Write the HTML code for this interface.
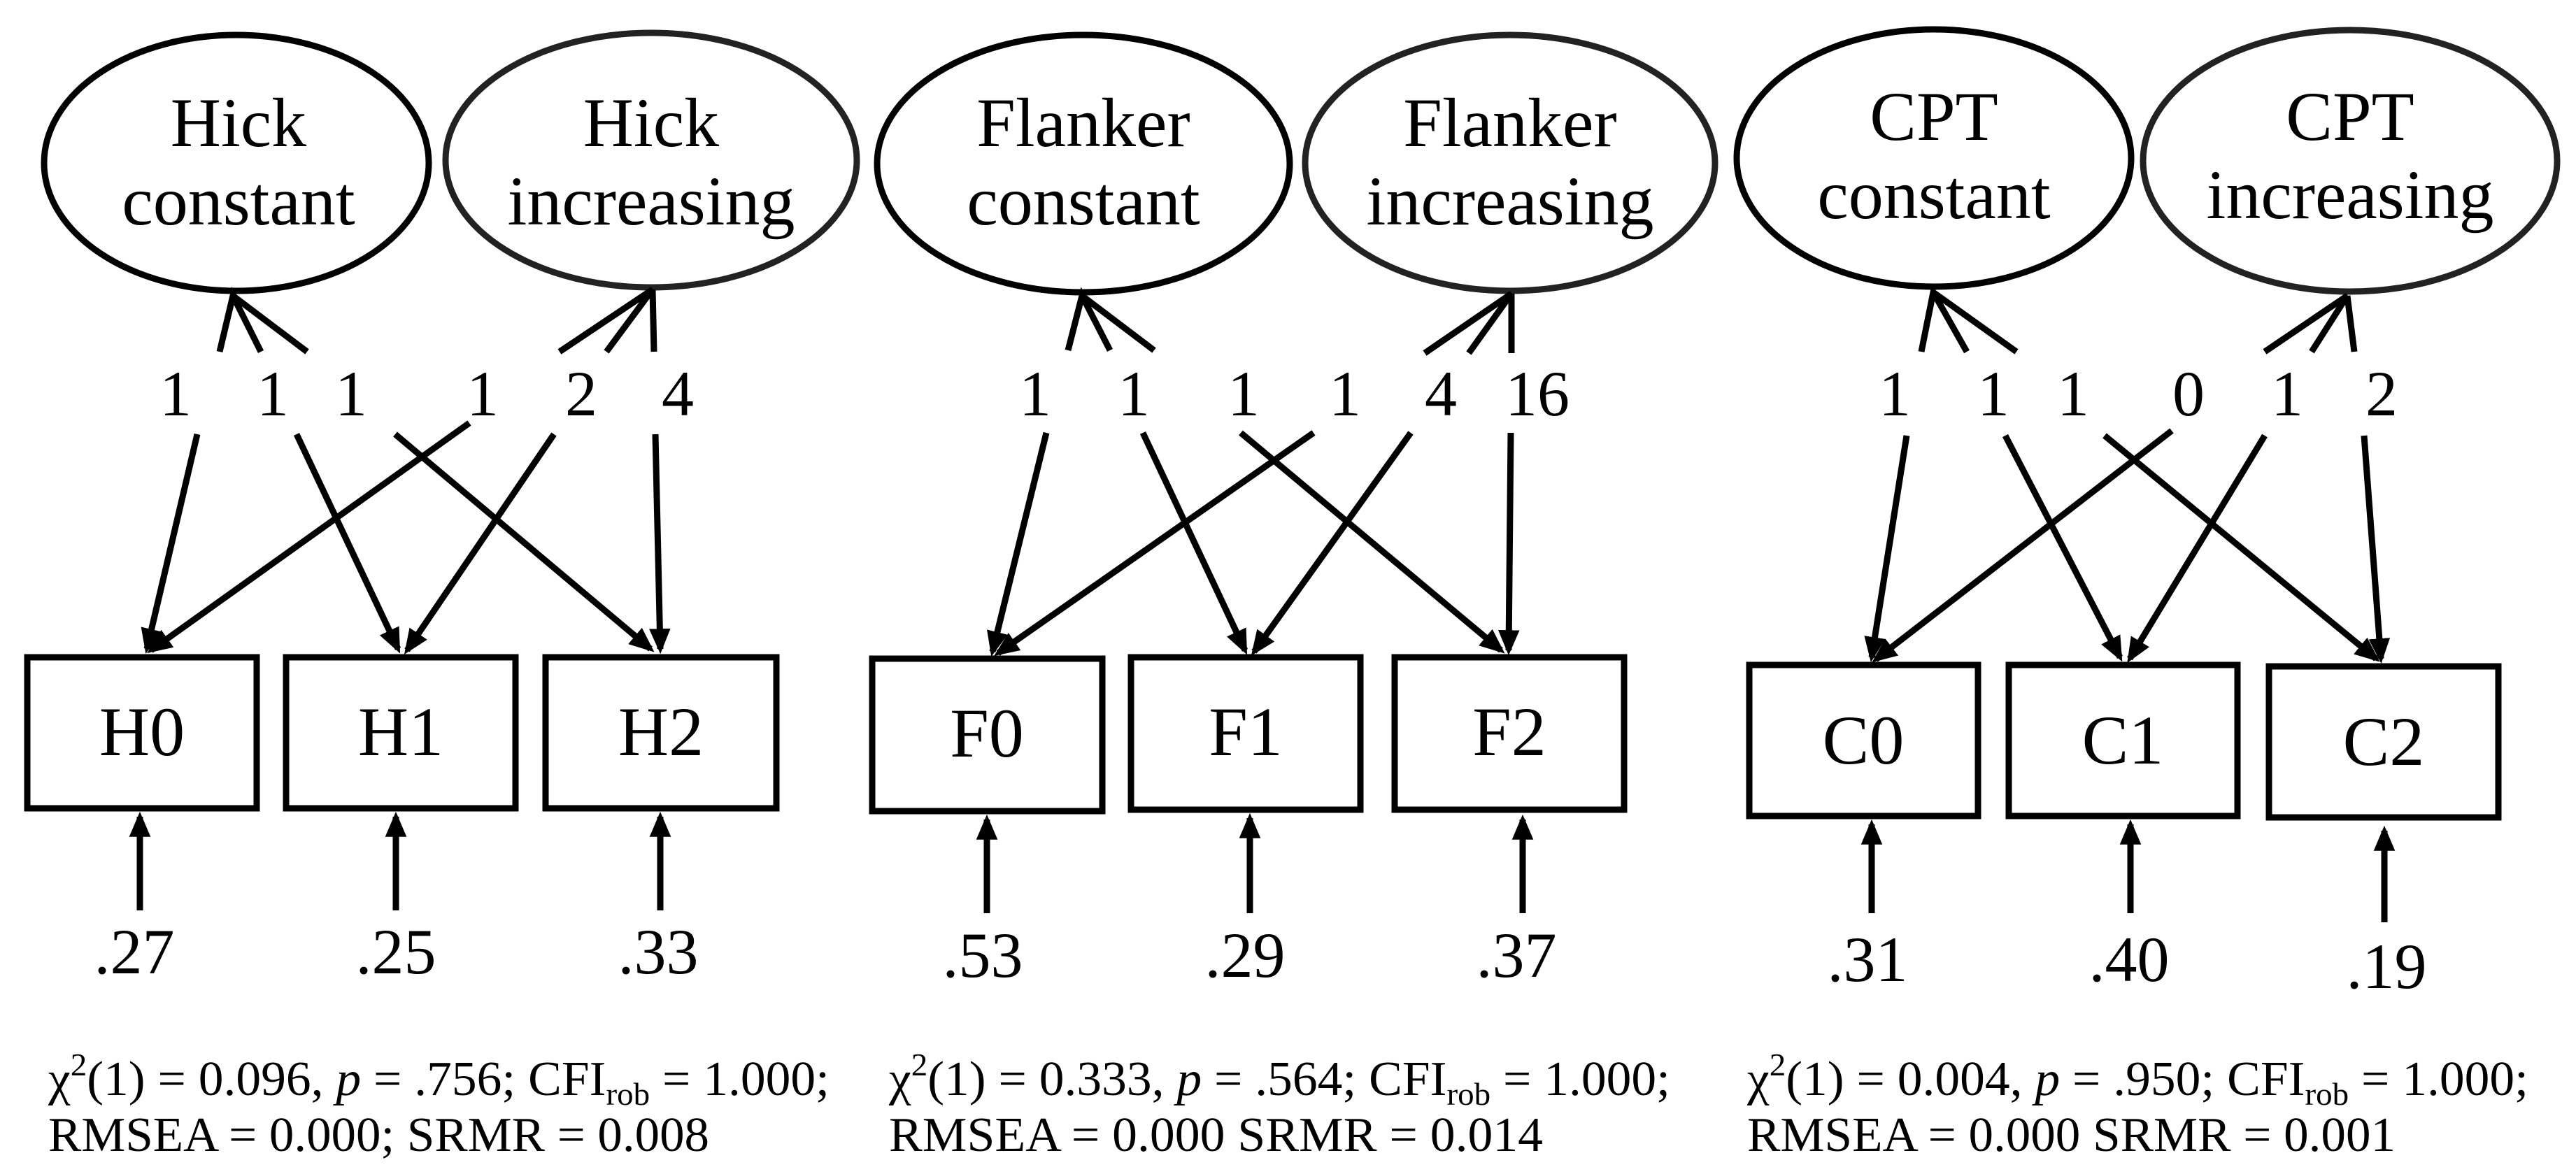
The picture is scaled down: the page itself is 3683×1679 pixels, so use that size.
<!DOCTYPE html>
<html><head><meta charset="utf-8"><style>
html,body{margin:0;padding:0;background:#fff}
svg{display:block}
text{font-family:"Liberation Serif",serif;fill:#000}
</style></head><body>
<svg width="3683" height="1679" viewBox="0 0 3683 1679" xmlns="http://www.w3.org/2000/svg">
<defs>
<marker id="a" markerWidth="4" markerHeight="4" refX="3.2" refY="2" orient="auto" markerUnits="strokeWidth">
<path d="M0,0.3 L4,2 L0,3.7 Z" fill="#000"/>
</marker>
</defs>
<g stroke="#000" stroke-width="9" fill="none">
<!-- Panel 1 -->
<ellipse cx="338" cy="233" rx="275" ry="183"/>
<ellipse cx="931" cy="229" rx="294" ry="182" stroke="#222"/>
<rect x="39" y="940" width="328" height="216"/>
<rect x="409" y="940" width="328" height="216"/>
<rect x="780" y="940" width="330" height="216"/>
<path d="M314,503 L333,423 L373,503 M333,423 L439,503"/>
<path d="M800,503 L933,414 L867,503 M933,414 L935,503"/>
<line x1="282" y1="621" x2="210" y2="928" marker-end="url(#a)"/>
<line x1="424" y1="621" x2="569" y2="928" marker-end="url(#a)"/>
<line x1="565" y1="621" x2="930" y2="928" marker-end="url(#a)"/>
<line x1="671" y1="605" x2="216" y2="930" marker-end="url(#a)"/>
<line x1="792" y1="621" x2="582" y2="930" marker-end="url(#a)"/>
<line x1="937" y1="621" x2="944" y2="928" marker-end="url(#a)"/>
<line x1="200" y1="1302" x2="200" y2="1168" marker-end="url(#a)"/>
<line x1="566" y1="1302" x2="566" y2="1168" marker-end="url(#a)"/>
<line x1="944" y1="1302" x2="944" y2="1168" marker-end="url(#a)"/>
<!-- Panel 2 -->
<ellipse cx="1549" cy="234" rx="295" ry="184"/>
<ellipse cx="2159" cy="233" rx="293" ry="183" stroke="#222"/>
<rect x="1247" y="942" width="329" height="218"/>
<rect x="1617" y="940" width="328" height="218"/>
<rect x="1994" y="940" width="328" height="218"/>
<path d="M1527,501 L1547,423 L1587,501 M1547,423 L1650,501"/>
<path d="M2037,505 L2161,420 L2100,505 M2161,420 L2161,505"/>
<line x1="1496" y1="619" x2="1419" y2="932" marker-end="url(#a)"/>
<line x1="1634" y1="619" x2="1780" y2="930" marker-end="url(#a)"/>
<line x1="1774" y1="619" x2="2146" y2="930" marker-end="url(#a)"/>
<line x1="1878" y1="619" x2="1427" y2="934" marker-end="url(#a)"/>
<line x1="2017" y1="619" x2="1793" y2="932" marker-end="url(#a)"/>
<line x1="2160" y1="619" x2="2157" y2="930" marker-end="url(#a)"/>
<line x1="1411" y1="1306" x2="1411" y2="1172" marker-end="url(#a)"/>
<line x1="1787" y1="1306" x2="1787" y2="1170" marker-end="url(#a)"/>
<line x1="2177" y1="1306" x2="2177" y2="1172" marker-end="url(#a)"/>
<!-- Panel 3 -->
<ellipse cx="2765" cy="226" rx="282" ry="184"/>
<ellipse cx="3360" cy="230" rx="296" ry="187" stroke="#222"/>
<rect x="2501" y="951" width="327" height="216"/>
<rect x="2872" y="951" width="327" height="216"/>
<rect x="3244" y="953" width="328" height="216"/>
<path d="M2747,503 L2764,418 L2812,503 M2764,418 L2883,503"/>
<path d="M3238,503 L3356,423 L3305,503 M3356,423 L3366,503"/>
<line x1="2726" y1="623" x2="2676" y2="940" marker-end="url(#a)"/>
<line x1="2867" y1="623" x2="3031" y2="940" marker-end="url(#a)"/>
<line x1="3009" y1="623" x2="3397" y2="942" marker-end="url(#a)"/>
<line x1="3105" y1="616" x2="2682" y2="943" marker-end="url(#a)"/>
<line x1="3238" y1="623" x2="3045" y2="942" marker-end="url(#a)"/>
<line x1="3380" y1="623" x2="3404" y2="942" marker-end="url(#a)"/>
<line x1="2676" y1="1306" x2="2676" y2="1179" marker-end="url(#a)"/>
<line x1="3046" y1="1306" x2="3046" y2="1179" marker-end="url(#a)"/>
<line x1="3409" y1="1319" x2="3409" y2="1188" marker-end="url(#a)"/>
</g>
<g font-size="100" text-anchor="middle">
<text x="341" y="209">Hick</text><text x="341" y="321">constant</text>
<text x="931" y="209">Hick</text><text x="931" y="321">increasing</text>
<text x="1549" y="209">Flanker</text><text x="1549" y="321">constant</text>
<text x="2159" y="209">Flanker</text><text x="2159" y="321">increasing</text>
<text x="2765" y="200">CPT</text><text x="2765" y="312">constant</text>
<text x="3360" y="200">CPT</text><text x="3360" y="312">increasing</text>
<text x="203" y="1080">H0</text><text x="573" y="1080">H1</text><text x="945" y="1080">H2</text>
<text x="1411" y="1082">F0</text><text x="1781" y="1080">F1</text><text x="2158" y="1080">F2</text>
<text x="2664" y="1092">C0</text><text x="3035" y="1092">C1</text><text x="3408" y="1094">C2</text>
</g>
<g font-size="92" text-anchor="middle">
<text x="251" y="594">1</text><text x="390" y="594">1</text><text x="502" y="594">1</text>
<text x="690" y="594">1</text><text x="831" y="594">2</text><text x="969" y="594">4</text>
<text x="1480" y="594">1</text><text x="1621" y="594">1</text><text x="1778" y="594">1</text>
<text x="1923" y="594">1</text><text x="2060" y="594">4</text><text x="2198" y="594">16</text>
<text x="2709" y="594">1</text><text x="2850" y="594">1</text><text x="2964" y="594">1</text>
<text x="3129" y="594">0</text><text x="3270" y="594">1</text><text x="3405" y="594">2</text>
<text x="192" y="1392">.27</text><text x="566" y="1392">.25</text><text x="941" y="1392">.33</text>
<text x="1405" y="1397">.53</text><text x="1780" y="1397">.29</text><text x="2168" y="1397">.37</text>
<text x="2670" y="1403">.31</text><text x="3044" y="1403">.40</text><text x="3412" y="1413">.19</text>
</g>
<g font-size="70">
<text x="69" y="1566" textLength="1117" lengthAdjust="spacingAndGlyphs">χ<tspan dy="-28" font-size="46">2</tspan><tspan dy="28">(1) = 0.096, </tspan><tspan font-style="italic">p</tspan> = .756; CFI<tspan dy="14" font-size="46">rob</tspan><tspan dy="-14"> = 1.000;</tspan></text>
<text x="69" y="1646" textLength="945" lengthAdjust="spacingAndGlyphs">RMSEA = 0.000; SRMR = 0.008</text>
<text x="1271" y="1566" textLength="1117" lengthAdjust="spacingAndGlyphs">χ<tspan dy="-28" font-size="46">2</tspan><tspan dy="28">(1) = 0.333, </tspan><tspan font-style="italic">p</tspan> = .564; CFI<tspan dy="14" font-size="46">rob</tspan><tspan dy="-14"> = 1.000;</tspan></text>
<text x="1271" y="1646" textLength="935" lengthAdjust="spacingAndGlyphs">RMSEA = 0.000 SRMR = 0.014</text>
<text x="2498" y="1566" textLength="1117" lengthAdjust="spacingAndGlyphs">χ<tspan dy="-28" font-size="46">2</tspan><tspan dy="28">(1) = 0.004, </tspan><tspan font-style="italic">p</tspan> = .950; CFI<tspan dy="14" font-size="46">rob</tspan><tspan dy="-14"> = 1.000;</tspan></text>
<text x="2498" y="1646" textLength="927" lengthAdjust="spacingAndGlyphs">RMSEA = 0.000 SRMR = 0.001</text>
</g>
</svg>
</body></html>
